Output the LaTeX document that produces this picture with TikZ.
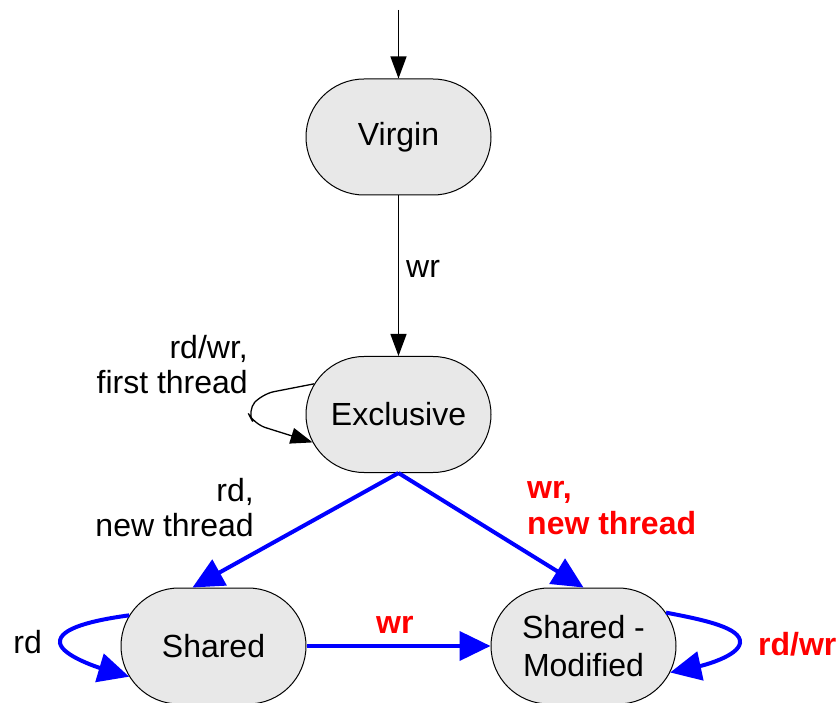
\documentclass[tikz,border=0pt]{standalone}
\usepackage{fontspec}
\setmainfont{Liberation Sans}
\usetikzlibrary{shapes.misc,arrows.meta,calc}
\definecolor{nodefill}{RGB}{232,232,232}
\definecolor{pblue}{RGB}{0,0,255}
\definecolor{pred}{RGB}{255,0,0}
\begin{document}
\begin{tikzpicture}[x=1pt,y=-1pt,
  state/.style={rounded rectangle, draw=black, line width=1pt, fill=nodefill,
    minimum width=185pt, minimum height=116pt, inner sep=0pt, align=center,
    font=\fontsize{32}{38}\selectfont},
  lbl/.style={inner sep=0pt, font=\fontsize{32}{35}\selectfont},
  rlbl/.style={inner sep=0pt, text=pred, font=\fontsize{32}{36}\selectfont\bfseries},
  thinarrow/.style={line width=1.3pt, draw=black, -{Triangle[length=22pt,width=16pt]}},
  thickarrow/.style={line width=4pt, draw=pblue, -{Triangle[length=31pt,width=29pt]}},
]
\useasboundingbox (0,0) rectangle (836,703);
\node[state] (vir) at (398.5,137) {Virgin};
\node[state] (ex) at (398.5,414.5) {Exclusive};
\node[state] (sh) at (213.5,646) {Shared};
\node[state] (sm) at (583.5,646) {Shared -\\Modified};
\coordinate (init) at (398.5,10);
\coordinate (shin) at ($(sh.north)+(-21,0)$);

\draw[thinarrow] (init) -- (vir.north);
\draw[thinarrow] (vir.south) -- (ex.north);
\draw[thinarrow, rounded corners=12pt] (ex.160) -- (262,394) -- (247,411) -- (254,424) -- (ex.198);

\draw[thickarrow] (ex.south) -- (shin);
\draw[thickarrow] (ex.south) -- (sm.north);
\draw[thickarrow] (sh.east) -- (sm.west);
\draw[thickarrow] (sh.160) .. controls (95,620) and (58,628) .. (60,643) .. controls (62,656) and (100,668) .. (sh.200);
\draw[thickarrow] (sm.22) .. controls (705,620) and (742,628) .. (740,643) .. controls (738,656) and (705,665) .. (sm.-17);

\node[lbl, anchor=base west] (lwr) at (406,278) {wr};
\node[lbl, anchor=north east, align=right] (lfirst) at (248,334.7) {rd/wr,\\first thread};
\node[lbl, anchor=north east, align=right] (lrdnew) at (254,477.7) {rd,\\new thread};
\node[rlbl, anchor=north west, align=left] (lwrnew) at (527,481.4) {wr,\\new thread};
\node[rlbl, anchor=base west] (lwrh) at (376,633) {wr};
\node[lbl, anchor=base east] (lrd) at (42,653) {rd};
\node[rlbl, anchor=base west] (lrdwr) at (758,655) {rd/wr};
\end{tikzpicture}
\end{document}
